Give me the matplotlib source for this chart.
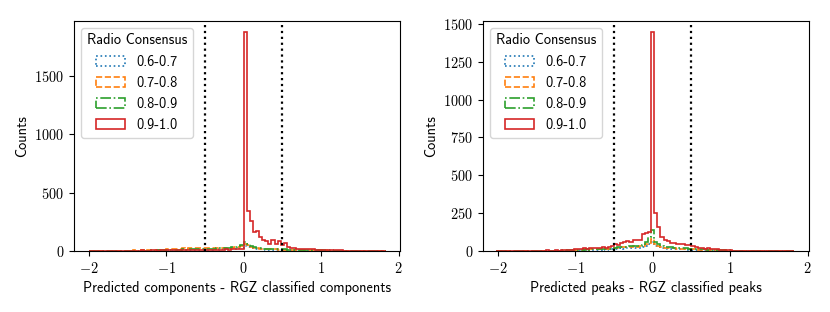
import numpy as np
import matplotlib
matplotlib.use("Agg")
import matplotlib.pyplot as plt
from matplotlib.ticker import FuncFormatter, MultipleLocator

plt.rcParams["font.family"] = "cmss10"
plt.rcParams["mathtext.fontset"] = "cm"
plt.rcParams["axes.unicode_minus"] = False
plt.rcParams["font.size"] = 10.3

# bin edges (width 0.04) for the two panels
left_edges = -2.0 + 0.04 * np.arange(97)
right_edges = -2.02 + 0.04 * np.arange(97)

labels = ["0.6-0.7", "0.7-0.8", "0.8-0.9", "0.9-1.0"]
colors = ["tab:blue", "tab:orange", "tab:green", "tab:red"]
styles = [":", "--", "-.", "-"]

# left panel: predicted components - RGZ classified components
comp_06 = ([0, 0, 0, 1, 0, 0, 1, 0, 1, 0, 1, 1, 0, 1, 1, 1, 1, 2, 1, 1, 2, 1, 2, 2, 2]
           + [5, 6, 5, 7, 6, 8, 7, 8, 9, 8, 10, 9, 10]
           + [10, 11, 12, 11, 13, 12, 14, 15, 16, 18, 22, 28]
           + [40, 30, 22, 18, 15, 13, 12, 11, 10, 9, 8, 8, 7, 6, 6, 5, 5, 4, 4, 3, 3, 3, 2, 2, 2,
              2, 1, 1, 1, 1, 1, 1, 0, 1, 0, 0, 1, 0, 0, 0, 0, 0, 0, 0, 0, 0])
comp_07 = ([0, 1, 0, 1, 1, 0, 1, 1, 2, 1, 1, 2, 1, 2, 3, 2, 2, 3, 2, 4, 3, 3, 4, 5, 6]
           + [14, 16, 18, 17, 20, 22, 19, 24, 21, 25, 23, 26, 22]
           + [24, 22, 25, 21, 23, 26, 24, 28, 25, 30, 35, 42]
           + [60, 48, 35, 28, 24, 20, 18, 16, 14, 13, 12, 11, 10, 10, 9, 8, 8, 7, 6, 6, 5, 5, 4, 4, 3,
              3, 3, 2, 2, 2, 2, 1, 1, 1, 1, 1, 0, 1, 0, 0, 1, 0, 0, 0, 0, 0])
comp_08 = ([0, 0, 1, 0, 1, 0, 1, 1, 0, 1, 1, 1, 2, 1, 1, 2, 1, 2, 2, 2, 3, 2, 3, 3, 4]
           + [8, 9, 10, 9, 11, 12, 10, 13, 12, 14, 13, 15, 14]
           + [16, 18, 20, 22, 21, 25, 24, 28, 30, 32, 38, 48]
           + [78, 55, 38, 30, 26, 22, 20, 18, 17, 16, 15, 14, 13, 12, 11, 10, 9, 8, 8, 7, 6, 6, 5, 5, 4,
              4, 3, 3, 3, 2, 2, 2, 1, 1, 1, 1, 1, 1, 0, 1, 0, 0, 0, 1, 0, 0])
comp_09 = ([1, 0, 1, 1, 0, 1, 1, 2, 1, 1, 2, 1, 2, 2, 1, 2, 2, 3, 2, 2, 3, 3, 2, 3, 3]
           + [4, 3, 5, 4, 5, 6, 5, 6, 7, 6, 8, 7, 8]
           + [8, 9, 10, 9, 11, 10, 12, 11, 13, 14, 16, 20]
           + [1880, 345, 252, 160, 172, 115, 92, 84, 58, 92, 55, 84, 46, 63, 35, 26, 22, 20, 20, 18,
              15, 14, 12, 10, 10, 8, 6, 6, 5, 4, 3, 3, 2, 2, 2, 2, 1, 2, 1, 1, 1, 0, 1, 0, 1, 0])

# right panel: predicted peaks - RGZ classified peaks
peak_06 = ([0, 0, 0, 1, 0, 0, 0, 1, 0, 1, 0, 0, 1, 1, 0, 1, 1, 1, 1, 1, 2, 1, 2, 2, 2]
           + [4, 5, 4, 6, 5, 7, 6, 8, 7, 9, 8, 10, 11]
           + [14, 15, 16, 15, 18, 17, 20, 19, 22, 25, 35, 48]
           + [60, 35, 25, 20, 17, 15, 14, 13, 12, 11, 10, 9, 8, 8, 7, 6, 5, 5, 4, 4, 3, 3, 2, 2, 2,
              1, 1, 1, 1, 1, 0, 1, 0, 0, 1, 0, 0, 0, 0, 0, 0, 0, 0, 0, 0, 0])
peak_07 = ([0, 1, 0, 0, 1, 0, 1, 0, 1, 1, 0, 1, 1, 1, 2, 1, 1, 2, 1, 2, 2, 2, 3, 2, 3]
           + [6, 8, 7, 9, 8, 10, 9, 11, 10, 12, 11, 13, 14]
           + [20, 22, 25, 24, 28, 26, 30, 28, 32, 35, 45, 55]
           + [80, 45, 32, 26, 22, 20, 18, 17, 15, 14, 13, 12, 11, 10, 9, 8, 7, 6, 6, 5, 4, 4, 3, 3, 2,
              2, 2, 1, 1, 1, 1, 1, 0, 1, 0, 0, 1, 0, 0, 0, 0, 0, 0, 0, 0, 0])
peak_08 = ([0, 0, 1, 0, 1, 0, 0, 1, 1, 0, 1, 1, 1, 1, 1, 2, 1, 2, 2, 1, 2, 3, 2, 3, 3]
           + [6, 7, 6, 8, 9, 8, 10, 9, 11, 12, 11, 14, 15]
           + [22, 24, 26, 25, 28, 30, 29, 32, 35, 40, 60, 90]
           + [135, 60, 42, 32, 28, 25, 24, 22, 20, 19, 18, 16, 15, 14, 12, 11, 10, 9, 8, 7, 6, 5, 5, 4,
              3, 3, 2, 2, 2, 1, 1, 1, 1, 0, 1, 0, 0, 1, 0, 0, 0, 0, 0, 0, 0, 0])
peak_09 = ([1, 2, 1, 1, 2, 1, 1, 2, 1, 2, 1, 2, 2, 1, 2, 2, 3, 2, 2, 3, 2, 3, 3, 4, 5]
           + [12, 15, 14, 18, 15, 20, 16, 22, 18, 25, 20, 28, 30]
           + [45, 40, 52, 60, 62, 58, 70, 75, 72, 110, 120, 125]
           + [1450, 250, 160, 92, 72, 62, 55, 50, 48, 45, 42, 40, 38, 30, 25, 20, 18, 15, 18, 12, 14,
              10, 8, 5, 3, 3, 2, 2, 1, 2, 1, 1, 1, 0, 1, 1, 0, 0, 1, 0, 0, 0, 1, 0, 0, 0])

panels = [
    (left_edges, [comp_06, comp_07, comp_08, comp_09],
     "Predicted components - RGZ classified components", 500),
    (right_edges, [peak_06, peak_07, peak_08, peak_09],
     "Predicted peaks - RGZ classified peaks", 250),
]

fig, axes = plt.subplots(1, 2, figsize=(8.3, 3.12), dpi=100)
fig.subplots_adjust(left=0.089, right=0.975, bottom=0.196, top=0.934, wspace=0.254)

tick_fmt = FuncFormatter(lambda v, p: f"${v:g}$")

for ax, (edges, series, xlabel, ystep) in zip(axes, panels):
    centers = 0.5 * (edges[:-1] + edges[1:])
    for vals, lab, col, ls in zip(series, labels, colors, styles):
        ax.hist(centers, bins=edges, weights=vals, histtype="step",
                color=col, linestyle=ls, linewidth=1.2, label=lab)
    ax.axvline(-0.5, color="k", linestyle=":", linewidth=1.6)
    ax.axvline(0.5, color="k", linestyle=":", linewidth=1.6)
    ax.set_xlim(-2.19, 2.02)
    ax.set_xticks([-2, -1, 0, 1, 2])
    ax.yaxis.set_major_locator(MultipleLocator(ystep))
    ax.xaxis.set_major_formatter(tick_fmt)
    ax.yaxis.set_major_formatter(tick_fmt)
    ax.set_xlabel(xlabel)
    ax.set_ylabel("Counts")
    ax.legend(title="Radio Consensus", loc="upper left")

plt.savefig("out.png")
